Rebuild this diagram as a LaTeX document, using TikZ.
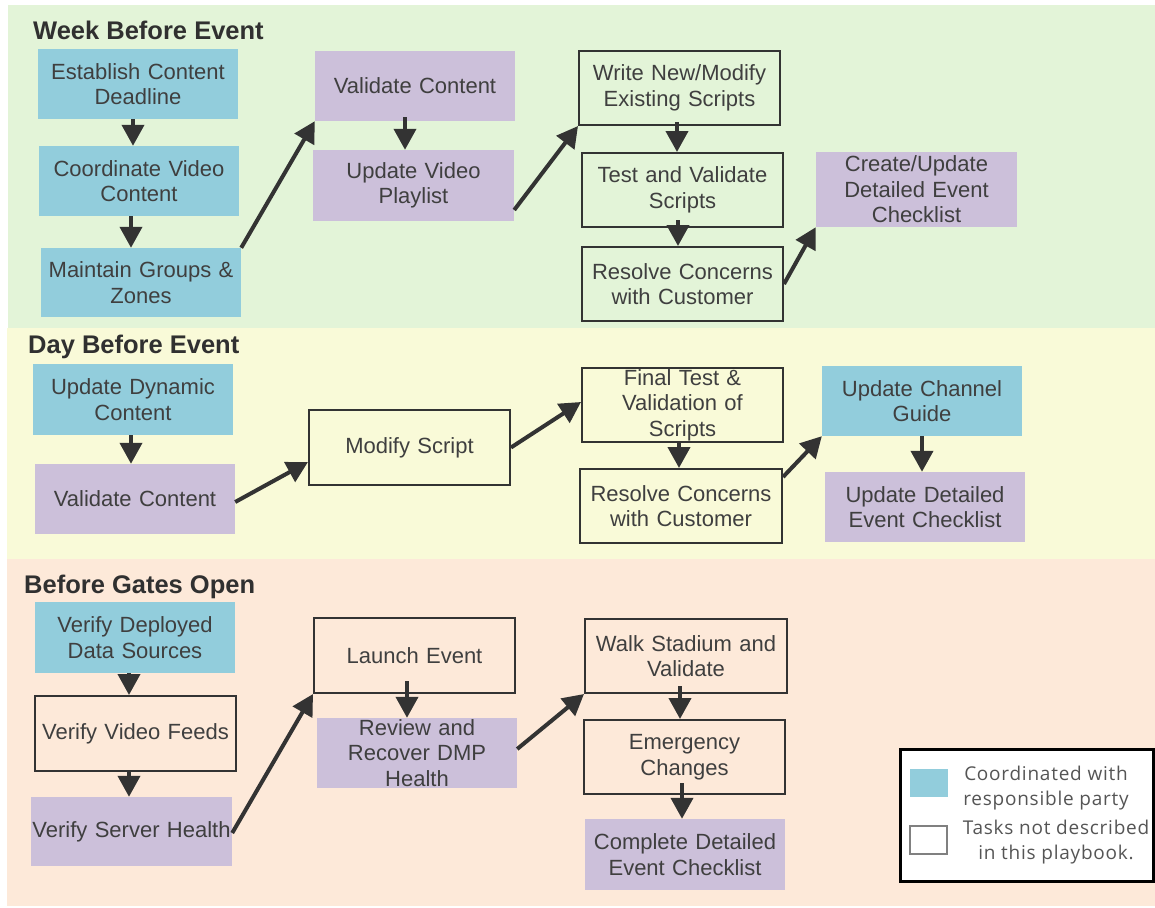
\documentclass[tikz,border=0pt]{standalone}
\usepackage{fontspec}
\setmainfont{Liberation Sans}
\newfontfamily\legendfont[LetterSpace=4]{Open Sans}
\usetikzlibrary{arrows.meta}
\definecolor{bgGreen}{HTML}{E3F4D8}
\definecolor{bgYellow}{HTML}{F9FAD8}
\definecolor{bgPeach}{HTML}{FDE9D9}
\definecolor{nBlue}{HTML}{92CDDC}
\definecolor{nPurple}{HTML}{CCC0DA}
\definecolor{txtGray}{HTML}{3F3F3F}
\definecolor{headGray}{HTML}{303030}
\definecolor{lineGray}{HTML}{333333}
\definecolor{legGray}{HTML}{555555}
\begin{document}
\begin{tikzpicture}[x=1pt,y=-1pt,
  box/.style={rectangle, inner sep=0pt, minimum width=200pt, minimum height=70pt,
    text width=200pt, align=center, font=\fontsize{22}{25.5}\selectfont, text=txtGray},
  bluebox/.style={box, fill=nBlue},
  purplebox/.style={box, fill=nPurple},
  whitebox/.style={box, draw=lineGray, line width=2pt},
  heading/.style={inner sep=0pt, anchor=base west, font=\fontsize{25.5}{30}\bfseries, text=headGray},
  arr/.style={draw=lineGray, line width=4pt, -{Triangle[length=21pt,width=22pt]}},
  legtext/.style={inner sep=0pt, align=center, font=\legendfont\fontsize{19}{25}\selectfont, text=legGray}
]
\useasboundingbox (0,0) rectangle (1155,907);
% bands
\fill[bgGreen] (8,5) rectangle (1155,328);
\fill[bgYellow] (7,328) rectangle (1155,559);
\fill[bgPeach] (7,559) rectangle (1155,906);

% headings
\node[heading] (h1) at (33,40) {Week Before Event};
\node[heading] (h2) at (28,353) {Day Before Event};
\node[heading] (h3) at (24,593) {Before Gates Open};

% week before event
\node[bluebox] (est) at (138,84) {Establish Content\\Deadline};
\node[bluebox] (coord) at (139,181) {Coordinate Video\\Content};
\node[bluebox, minimum height=69pt] (maint) at (141,282.5) {Maintain Groups \&\\Zones};
\node[purplebox] (valc1) at (415,86) {Validate Content};
\node[purplebox, minimum width=201pt, minimum height=71pt] (uvp) at (413.5,185.5) {Update Video\\Playlist};
\node[whitebox, minimum width=201pt, minimum height=74pt] (write) at (679.5,88) {Write New/Modify\\Existing Scripts};
\node[whitebox, minimum width=201pt, minimum height=74pt] (test) at (682.5,190) {Test and Validate\\Scripts};
\node[whitebox, minimum width=201pt, minimum height=74pt] (res1) at (682.5,284) {Resolve Concerns\\with Customer};
\node[purplebox, minimum width=201pt, minimum height=75pt] (create) at (916.5,189.5) {Create/Update\\Detailed Event\\Checklist};

% day before event
\node[bluebox, minimum height=71pt] (udc) at (133,399.5) {Update Dynamic\\Content};
\node[purplebox] (valc2) at (135,499) {Validate Content};
\node[whitebox, minimum width=201pt, minimum height=75pt] (modify) at (409.5,447.5) {Modify Script};
\node[whitebox, minimum width=201pt, minimum height=74pt] (final) at (682.5,405) {Final Test \&\\Validation of\\Scripts};
\node[whitebox, minimum width=202pt, minimum height=74pt] (res2) at (681,506) {Resolve Concerns\\with Customer};
\node[bluebox] (ucg) at (922,401) {Update Channel\\Guide};
\node[purplebox] (udec) at (925,507) {Update Detailed\\Event Checklist};

% before gates open
\node[bluebox, minimum height=71pt] (vdds) at (135,637.5) {Verify Deployed\\Data Sources};
\node[whitebox, minimum width=201pt, minimum height=75pt] (vvf) at (135.5,733.5) {Verify Video Feeds};
\node[purplebox, minimum width=201pt, minimum height=69pt] (vsh) at (131.5,831.5) {Verify Server Health};
\node[whitebox, minimum width=201pt, minimum height=75pt] (launch) at (414.5,655.5) {Launch Event};
\node[purplebox] (review) at (417,753) {Review and\\Recover DMP\\Health};
\node[whitebox, minimum width=202pt, minimum height=74pt] (walk) at (686,656) {Walk Stadium and\\Validate};
\node[whitebox, minimum width=201pt, minimum height=74pt] (emerg) at (684.5,757) {Emergency\\Changes};
\node[purplebox, minimum height=71pt] (complete) at (685,854.5) {Complete Detailed\\Event Checklist};

% legend
\node[draw=black, line width=3pt, fill=white, inner sep=0pt, minimum width=253pt, minimum height=132pt] (legend) at (1026.5,815) {};
\node[fill=nBlue, inner sep=0pt, minimum width=38pt, minimum height=28pt] (swblue) at (929,783) {};
\node[draw=gray, line width=1.5pt, fill=white, inner sep=0pt, minimum width=37pt, minimum height=28pt] (swwhite) at (928.5,840) {};
\node[legtext] (lt1) at (1046,788) {Coordinated with\\responsible party};
\node[legtext] (lt2) at (1056,842) {Tasks not described\\in this playbook.};

% arrows week
\draw[arr] (est.south -| 133,0) -- (coord.north -| 133,0);
\draw[arr] (coord.south -| 131,0) -- (maint.north -| 131,0);
\draw[arr] (maint.north east) -- (valc1.south west);
\draw[arr] ([yshift=4pt]valc1.south -| 405,0) -- (uvp.north -| 405,0);
\draw[arr] (uvp.east |- 0,210) -- (write.south west);
\draw[arr] ([yshift=4pt]write.south -| 677,0) -- (test.north -| 677,0);
\draw[arr] ([yshift=8pt]test.south -| 678,0) -- (res1.north -| 678,0);
\draw[arr] (res1.east) -- (create.south west);

% arrows day
\draw[arr] (udc.south -| 131,0) -- (valc2.north -| 131,0);
\draw[arr] (valc2.east |- 0,502) -- (modify.west |- 0,462);
\draw[arr] (modify.east) -- (final.west |- 0,402);
\draw[arr] (final.south -| 679,0) -- (res2.north -| 679,0);
\draw[arr] (res2.east |- 0,477) -- (ucg.south west);
\draw[arr] (ucg.south -| 922,0) -- (udec.north -| 922,0);

% arrows gates
\draw[arr] (vdds.south -| 129,0) -- (vvf.north -| 129,0);
\draw[arr] (vvf.south -| 129,0) -- (vsh.north -| 129,0);
\draw[arr] (vsh.east |- 0,833) -- (launch.south west);
\draw[arr] ([yshift=13pt]launch.south -| 407,0) -- (review.north -| 407,0);
\draw[arr] (review.east |- 0,749) -- (walk.south west);
\draw[arr] ([yshift=8pt]walk.south -| 680,0) -- (emerg.north -| 680,0);
\draw[arr] ([yshift=12pt]emerg.south -| 682,0) -- (complete.north -| 682,0);
\end{tikzpicture}
\end{document}
